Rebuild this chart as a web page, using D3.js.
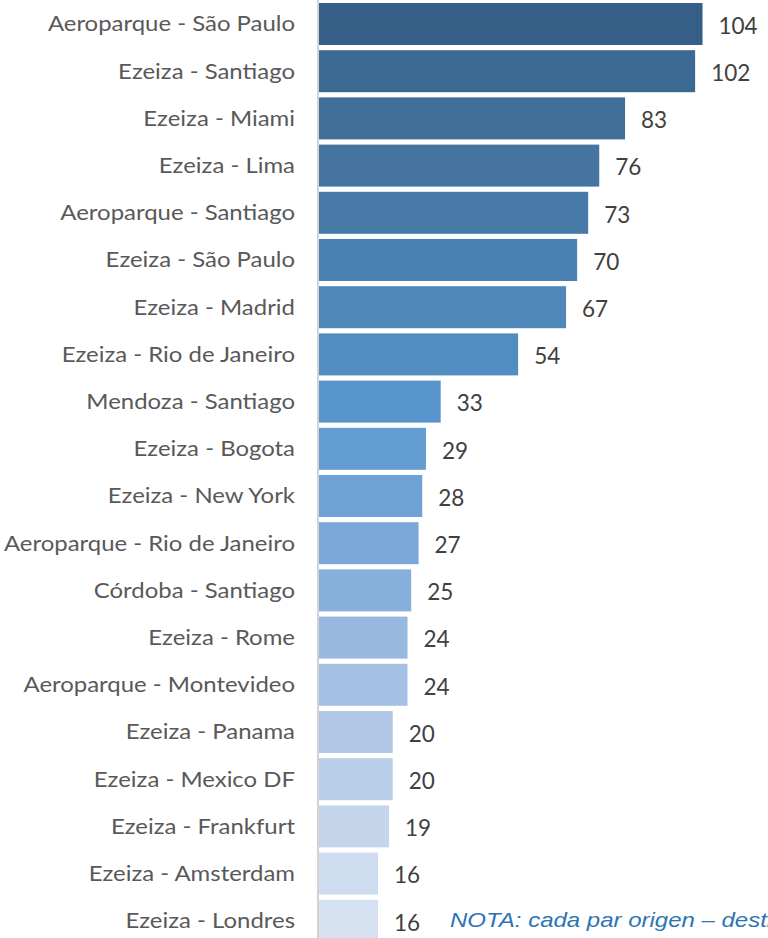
<!DOCTYPE html>
<html>
<head>
<meta charset="utf-8">
<script src="https://cdn.jsdelivr.net/npm/d3@7/dist/d3.min.js"></script>
<style>
  html, body { margin: 0; padding: 0; background: #fff; overflow: hidden; }
  svg { display: block; }
</style>
</head>
<body>
<svg id="chart" width="768" height="938"></svg>
<script>
const categories = [
  "Aeroparque - São Paulo", "Ezeiza - Santiago", "Ezeiza - Miami", "Ezeiza - Lima",
  "Aeroparque - Santiago", "Ezeiza - São Paulo", "Ezeiza - Madrid", "Ezeiza - Rio de Janeiro",
  "Mendoza - Santiago", "Ezeiza - Bogota", "Ezeiza - New York", "Aeroparque - Rio de Janeiro",
  "Córdoba - Santiago", "Ezeiza - Rome", "Aeroparque - Montevideo", "Ezeiza - Panama",
  "Ezeiza - Mexico DF", "Ezeiza - Frankfurt", "Ezeiza - Amsterdam", "Ezeiza - Londres"
];
const values = [104, 102, 83, 76, 73, 70, 67, 54, 33, 29, 28, 27, 25, 24, 24, 20, 20, 19, 16, 16];
const noteText = "NOTA: cada par origen – destino";

const svg = d3.select("#chart");
const W = 768, H = 938;

const x = d3.scaleLinear().domain([0, 120]).range([319, 761.5]);
const y = d3.scaleBand().domain(categories).range([0.4, 944.4]).paddingInner(0.11).paddingOuter(0.055);

const color = d3.scaleLinear()
  .domain([0, 1, 3, 7, 8, 11, 12, 13, 14, 15, 19])
  .range(["#365f87", "#3c6992", "#44749f", "#528dc1", "#5795cc", "#7aa9d9",
          "#86afdc", "#98b8e0", "#a6c0e4", "#b1c8e6", "#d6e2f1"])
  .interpolate(d3.interpolateRgb);

const font = "Lato, Carlito, 'Open Sans', sans-serif";

svg.selectAll("rect.bar").data(values).join("rect")
  .attr("class", "bar")
  .attr("x", x(0))
  .attr("y", (d, i) => y(categories[i]))
  .attr("width", d => x(d) - x(0))
  .attr("height", y.bandwidth())
  .attr("fill", (d, i) => color(i));

// axis line
svg.append("line")
  .attr("x1", x(0) - 1).attr("x2", x(0) - 1)
  .attr("y1", 0).attr("y2", H)
  .attr("stroke", "#c4c4c4").attr("stroke-width", 1.5);

// category labels (horizontally stretched like the source)
svg.selectAll("text.cat").data(categories).join("text")
  .attr("class", "cat")
  .attr("transform", d => `translate(295,${y(d) + y.bandwidth() / 2}) scale(1.14,1)`)
  .attr("dy", "0.35em")
  .attr("text-anchor", "end")
  .attr("font-family", font)
  .attr("font-size", 21)
  .attr("fill", "#595959")
  .text(d => d);

// value labels
svg.selectAll("text.val").data(values).join("text")
  .attr("class", "val")
  .attr("x", d => x(d) + 16)
  .attr("y", (d, i) => y(categories[i]) + y.bandwidth() / 2 + 2)
  .attr("dy", "0.35em")
  .attr("font-family", font)
  .attr("font-size", 22.5)
  .attr("fill", "#404040")
  .text(d => d);

// note (cut at the right edge, as in the source)
svg.append("text")
  .attr("transform", "translate(450,927) scale(1.2,1)")
  .attr("font-family", "'Liberation Sans', Arial, sans-serif")
  .attr("font-size", 20)
  .attr("font-style", "italic")
  .attr("fill", "#2e74b5")
  .text(noteText);
</script>
</body>
</html>
